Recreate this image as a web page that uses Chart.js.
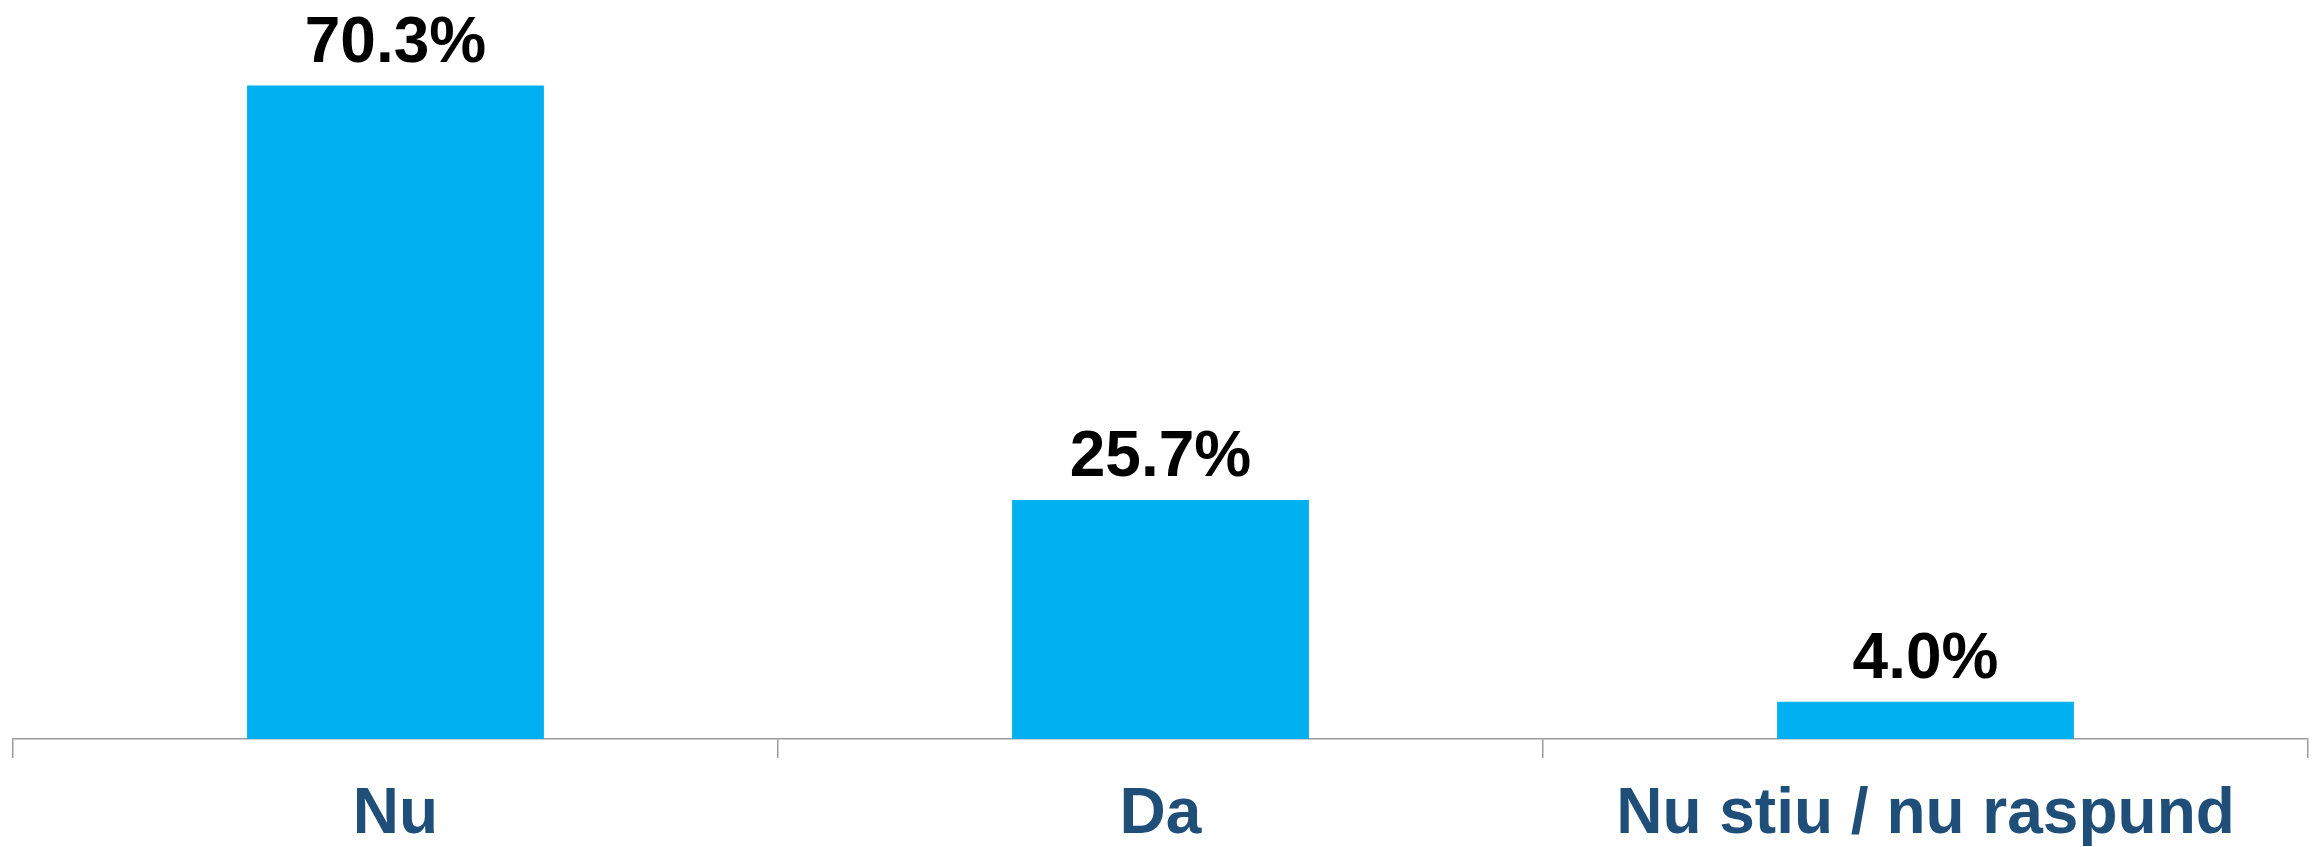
<!DOCTYPE html>
<html>
<head>
<meta charset="utf-8">
<script src="https://cdn.jsdelivr.net/npm/chart.js@4"></script>
<style>
    html, body { margin: 0; padding: 0; background: #fff; }
    canvas { display: block; }
</style>
</head>
<body>
<canvas id="surveyChart" width="2318" height="847"></canvas>
<script>
// Chart data
const categories = ['Nu', 'Da', 'Nu stiu / nu raspund'];
const percentages = [70.3, 25.7, 4.0];

// Draws the value labels above each bar
const valueLabels = {
    id: 'valueLabels',
    afterDatasetsDraw(chart) {
        const ctx = chart.ctx;
        const meta = chart.getDatasetMeta(0);
        ctx.save();
        ctx.fillStyle = '#000000';
        ctx.font = "bold 64px 'Liberation Sans', Arial, sans-serif";
        ctx.textAlign = 'center';
        ctx.textBaseline = 'alphabetic';
        meta.data.forEach((bar, i) => {
            ctx.fillText(percentages[i].toFixed(1) + '%', bar.x, bar.y - 24);
        });
        ctx.restore();
    }
};

const ctx = document.getElementById('surveyChart').getContext('2d');

new Chart(ctx, {
    type: 'bar',
    data: {
        labels: categories,
        datasets: [{
            data: percentages,
            backgroundColor: '#00B0F0',
            borderWidth: 0,
            categoryPercentage: 1.0,
            barPercentage: 0.388
        }]
    },
    options: {
        responsive: false,
        animation: false,
        devicePixelRatio: 1,
        layout: {
            padding: { top: 14, left: 13, right: 10, bottom: 0 }
        },
        plugins: {
            legend: { display: false },
            tooltip: { enabled: false }
        },
        scales: {
            x: {
                offset: true,
                // fixed axis height so the baseline sits where the original has it
                afterFit: (scale) => { scale.height = 108; },
                border: { display: true, color: '#9C9C9C', width: 1.5 },
                grid: {
                    offset: true,
                    drawOnChartArea: false,
                    drawTicks: true,
                    tickLength: 19,
                    color: '#9C9C9C',
                    lineWidth: 1.5
                },
                ticks: {
                    color: '#1F4E79',
                    padding: 19,
                    maxRotation: 0,
                    autoSkip: false,
                    font: {
                        family: "'Liberation Sans', Arial, sans-serif",
                        size: 64,
                        weight: 'bold',
                        lineHeight: 1.2
                    }
                }
            },
            y: {
                display: false,
                min: 0,
                max: 78
            }
        }
    },
    plugins: [valueLabels]
});
</script>
</body>
</html>
